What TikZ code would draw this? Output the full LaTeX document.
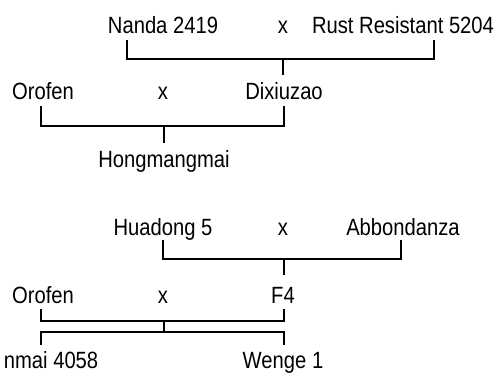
\documentclass[tikz,border=0pt]{standalone}
\usepackage{fontspec}
\setmainfont{Liberation Sans}[FakeStretch=0.86]
\begin{document}
\begin{tikzpicture}[x=1pt, y=-1pt, line width=1.5pt,
  cultivar/.style={anchor=base, inner sep=0pt, font=\fontsize{23.5}{28}\selectfont}]
  \useasboundingbox (0,0) rectangle (498,373);
  % first pedigree
  \node[cultivar] (nanda) at (163,33) {Nanda 2419};
  \node[cultivar] (cross1) at (283,33) {x};
  \node[cultivar] (rust) at (403,33) {Rust Resistant 5204};
  \node[cultivar] (orofenA) at (43,99) {Orofen};
  \node[cultivar] (cross2) at (163,99) {x};
  \node[cultivar] (dixiuzao) at (284,99) {Dixiuzao};
  \node[cultivar] (hong) at (164,167) {Hongmangmai};
  \coordinate (b1l) at (127,40);
  \coordinate (b1r) at (434,40);
  \coordinate (b1m) at (283,59);
  \coordinate (b1e) at (283,75);
  \draw (b1l) -- ++(0,19) -| (b1r);
  \draw (b1m) -- (b1e);
  \coordinate (b2l) at (41,106);
  \coordinate (b2r) at (284,106);
  \coordinate (b2m) at (164,126);
  \coordinate (b2e) at (164,143);
  \draw (b2l) -- ++(0,20) -| (b2r);
  \draw (b2m) -- (b2e);
  % second pedigree
  \node[cultivar] (huadong) at (163,235) {Huadong 5};
  \node[cultivar] (cross3) at (283,235) {x};
  \node[cultivar] (abbond) at (403,235) {Abbondanza};
  \node[cultivar] (orofenB) at (43,303) {Orofen};
  \node[cultivar] (cross4) at (163,303) {x};
  \node[cultivar] (f4) at (283,303) {F4};
  \node[cultivar, anchor=base east] (nmai) at (99,368) {nmai 4058};
  \node[cultivar] (wenge) at (283,368) {Wenge 1};
  \coordinate (b3l) at (163,240);
  \coordinate (b3r) at (401,240);
  \coordinate (b3m) at (284,259);
  \coordinate (b3e) at (284,275);
  \draw (b3l) -- ++(0,19) -| (b3r);
  \draw (b3m) -- (b3e);
  \coordinate (b4l) at (41,309);
  \coordinate (b4r) at (284,309);
  \coordinate (b4m) at (164,321);
  \coordinate (b4e) at (164,332);
  \draw (b4l) -- ++(0,12) -| (b4r);
  \draw (b4m) -- (b4e);
  \coordinate (b5l) at (41,345);
  \coordinate (b5r) at (284,345);
  \draw (b5l) -- ++(0,-13) -| (b5r);
\end{tikzpicture}
\end{document}
